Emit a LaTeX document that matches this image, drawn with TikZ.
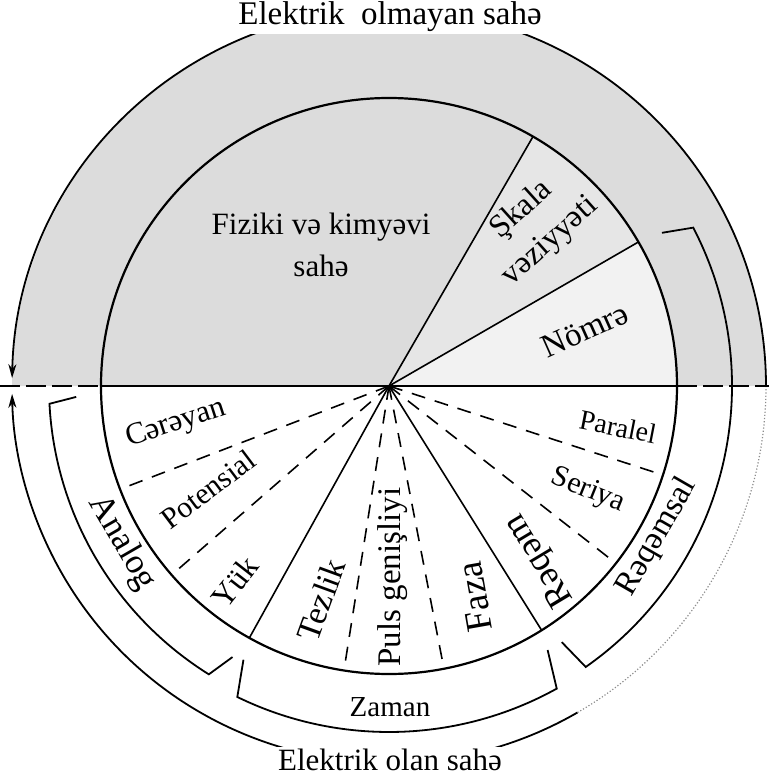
\documentclass[tikz,border=0pt]{standalone}
\usepackage{fontspec}
\setmainfont{Liberation Serif}
\usetikzlibrary{arrows.meta}
\definecolor{dots}{HTML}{DCDCDC}
\definecolor{dotslight}{HTML}{E6E6E6}
\definecolor{dotsfaint}{HTML}{F2F2F2}
\newcommand{\sz}[1]{\fontsize{#1}{21}\selectfont}

\begin{document}
\begin{tikzpicture}[x=0.5pt, y=0.5pt, line width=0.9pt,
  sector/.style={dash pattern=on 7pt off 5pt, line width=0.8pt},
  axis/.style={dash pattern=on 10pt off 3pt},
  tip/.style={-{Stealth[length=7pt,width=4pt]}},
  lbl/.style={inner sep=1pt, align=center}]
\useasboundingbox (-389,-391) rectangle (380,386);
\coordinate (O) at (0,0);

% Stippled upper half
\fill[dots] (377,0) arc[start angle=0, end angle=180, radius=377] -- cycle;
\fill[dotslight] (O) -- (30:288) arc[start angle=30, end angle=60, radius=288] -- cycle;
\fill[dotsfaint] (O) -- (0:288) arc[start angle=0, end angle=30, radius=288] -- cycle;

% Circles
\draw[line width=1.1pt] (O) circle[radius=288];
\draw[tip] (0:377) arc[start angle=0, end angle=178.8, radius=377];
\draw[tip] (300:377) arc[start angle=300, end angle=181.2, radius=377];
\draw[densely dotted, black!45, line width=0.6pt] (300:377) arc[start angle=300, end angle=360, radius=377];

% Horizontal line
\draw (-288,0) -- (288,0);
\draw[axis] (-389,0) -- (-288,0);
\draw[axis] (288,0) -- (380,0);

% Sector lines
\draw[line width=0.8pt] (O) -- (60:288);
\draw[line width=0.8pt] (O) -- (30:288);
\foreach \a in {241,302} \draw[line width=0.8pt] (O) -- (\a:288);
\foreach \a in {201,221,261,281,322,342} \draw[sector] (O) -- (\a:288);

% Brackets
\draw (182:313) -- (183:340) arc[start angle=183, end angle=238, radius=340] -- (240:313);
\draw (242:310) -- (244:346) arc[start angle=244, end angle=299, radius=346] -- (301:308);
\draw (304:309) -- (305:343) arc[start angle=305, end angle=387.5, radius=343] -- (389.3:313);

% Outer labels
\node[lbl, fill=white, font=\sz{16.5}] (title) at (1,369) {Elektrik\ \ olmayan sahə};
\node[lbl, fill=white, font=\sz{15.5}] (bottom) at (1,-374) {Elektrik olan sahə};

% Upper sectors
\node[lbl, font=\sz{15.5}] (fizik) at (-68,141) {Fiziki və kimyəvi\\sahə};
\node[lbl, font=\sz{16}, rotate=42] (skala) at (147,160) {Şkala\\vəziyyəti};
\node[lbl, font=\sz{16.5}, rotate=24] (nomre) at (196,56) {Nömrə};

% Lower sectors
\node[lbl, font=\sz{15.5}, rotate=18] (cereyan) at (-213,-38) {Cərəyan};
\node[lbl, font=\sz{15}, rotate=37] (potensial) at (-181,-103) {Potensial};
\node[lbl, font=\sz{16}, rotate=52] (yuk) at (-154,-196) {Yük};
\node[lbl, font=\sz{17}, rotate=70] (tezlik) at (-68,-214) {Tezlik};
\node[lbl, font=\sz{16.5}, rotate=90] (puls) at (4,-191) {Puls genişliyi};
\node[lbl, font=\sz{18.5}, rotate=100] (faza) at (86,-211) {Faza};
\node[lbl, font=\sz{18}, rotate=121] (reqem) at (151,-174) {Rəqəm};
\node[lbl, font=\sz{15}, rotate=-22] (seriya) at (199,-105) {Seriya};
\node[lbl, font=\sz{14}, rotate=-11] (paralel) at (229,-41) {Paralel};

% Bracket labels
\node[lbl, font=\sz{17.5}, rotate=-60] (analog) at (-267,-157) {Analog};
\node[lbl, font=\sz{14.5}] (zaman) at (1,-321) {Zaman};
\node[lbl, font=\sz{16.5}, rotate=60] (reqemsal) at (268,-151) {Rəqəmsal};

\end{tikzpicture}
\end{document}
